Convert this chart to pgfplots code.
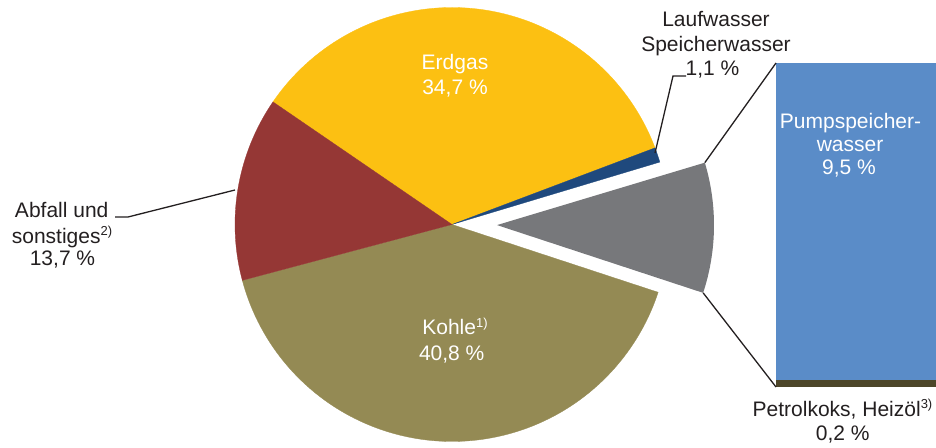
\documentclass[border=0pt]{standalone}
\usepackage{pgfplots}
\pgfplotsset{compat=1.18}
\usepackage{fontspec}
\setmainfont{Liberation Sans}
\definecolor{cErd}{HTML}{FCC012}
\definecolor{cAbf}{HTML}{953735}
\definecolor{cKoh}{HTML}{948A54}
\definecolor{cGry}{HTML}{77787B}
\definecolor{cLau}{HTML}{1F497D}
\definecolor{cPmp}{HTML}{5A8CC8}
\definecolor{cPet}{HTML}{4D4629}
\definecolor{cTxt}{HTML}{231F20}
\newcommand{\fs}{\fontsize{21}{25}\selectfont}
\newcommand{\sups}[1]{\raisebox{7.5pt}{\fontsize{13}{13}\selectfont #1}}
\tikzset{lbl/.style={font=\fs, text=cTxt, anchor=base, inner sep=0pt},
         wlbl/.style={font=\fs, text=white, anchor=base, inner sep=0pt}}
% shares in percent
\def\vErd{34.7}
\def\vLau{1.1}
\def\vPmp{9.5}
\def\vPet{0.2}
\def\vKoh{40.8}
\def\vAbf{13.7}
\begin{document}
\begin{tikzpicture}
\pgfmathsetmacro\cx{452}
\pgfmathsetmacro\cy{222.5}
\pgfmathsetmacro\R{217}
\pgfmathsetmacro\aE{145.6}
\pgfmathsetmacro\aEs{\aE-3.6*\vErd}
\pgfmathsetmacro\aLs{\aEs-3.6*\vLau}
\pgfmathsetmacro\aGs{\aLs-3.6*(\vPmp+\vPet)}
\pgfmathsetmacro\aKs{\aGs-3.6*\vKoh}
\pgfmathsetmacro\aAe{\aE+3.6*\vAbf}
\pgfmathsetmacro\aGm{(\aGs+\aLs)/2}
\pgfmathsetmacro\gx{\cx+45*cos(\aGm)}
\pgfmathsetmacro\gy{\cy+45*sin(\aGm)}
\pgfmathsetmacro\gTx{\gx+\R*cos(\aLs)}
\pgfmathsetmacro\gTy{\gy+\R*sin(\aLs)}
\pgfmathsetmacro\gBx{\gx+\R*cos(\aGs)}
\pgfmathsetmacro\gBy{\gy+\R*sin(\aGs)}
\pgfmathsetmacro\bB{60}
\pgfmathsetmacro\bT{384}
\pgfmathsetmacro\bS{(\bT-\bB)/(\vPmp+\vPet)}
\pgfmathsetmacro\bM{\bB+\bS*\vPet}
\begin{axis}[x=1pt,y=1pt,xmin=0,xmax=936,ymin=0,ymax=447,hide axis,clip=false]
\path (axis cs:0,0) rectangle (axis cs:936,447);
% pie wedges
\addplot[fill=cErd, draw=cErd, line width=0.3pt, domain=\aEs:\aE, samples=120, variable=\t]
  ({\cx+\R*cos(\t)},{\cy+\R*sin(\t)}) -- (axis cs:\cx,\cy) -- cycle;
\addplot[fill=cLau, draw=cLau, line width=0.3pt, domain=\aLs:\aEs, samples=10, variable=\t]
  ({\cx+\R*cos(\t)},{\cy+\R*sin(\t)}) -- (axis cs:\cx,\cy) -- cycle;
\addplot[fill=cKoh, draw=cKoh, line width=0.3pt, domain=\aKs:\aGs, samples=140, variable=\t]
  ({\cx+\R*cos(\t)},{\cy+\R*sin(\t)}) -- (axis cs:\cx,\cy) -- cycle;
\addplot[fill=cAbf, draw=cAbf, line width=0.3pt, domain=\aE:\aAe, samples=60, variable=\t]
  ({\cx+\R*cos(\t)},{\cy+\R*sin(\t)}) -- (axis cs:\cx,\cy) -- cycle;
\addplot[fill=cGry, draw=none, domain=\aGs:\aLs, samples=50, variable=\t]
  ({\gx+\R*cos(\t)},{\gy+\R*sin(\t)}) -- (axis cs:\gx,\gy) -- cycle;
% bar of pie
\addplot[fill=cPet, draw=none] coordinates {(776,\bB) (936,\bB) (936,\bM) (776,\bM)} -- cycle;
\addplot[fill=cPmp, draw=none] coordinates {(776,\bM) (936,\bM) (936,\bT) (776,\bT)} -- cycle;
% connector and leader lines
\addplot[cTxt, line width=1.3pt] coordinates {(\gTx,\gTy) (776,\bT)};
\addplot[cTxt, line width=1.3pt] coordinates {(\gBx,\gBy) (776,\bB)};
\addplot[cTxt, line width=1.3pt] coordinates {(115,230) (128,230) (235,257)};
\addplot[cTxt, line width=1.3pt] coordinates {(686,371) (673,371) (655,294)};
% labels
\node[wlbl] at (axis cs:455,377) {Erdgas};
\node[wlbl] at (axis cs:455,352) {34,7 \%};
\node[wlbl] at (axis cs:455,112) {Kohle\sups{1)}};
\node[wlbl] at (axis cs:451.7,87) {40,8 \%};
\node[lbl] at (axis cs:61.7,229.7) {Abfall und};
\node[lbl] at (axis cs:62,203.7) {sonstiges\sups{2)}};
\node[lbl] at (axis cs:62.5,181) {13,7 \%};
\node[lbl] at (axis cs:716,420.3) {Laufwasser};
\node[lbl] at (axis cs:716,395.3) {Speicherwasser};
\node[lbl] at (axis cs:712.5,371) {1,1 \%};
\node[wlbl] at (axis cs:850.5,318.7) {Pumpspeicher-};
\node[wlbl] at (axis cs:850,295.3) {wasser};
\node[wlbl] at (axis cs:849,272) {9,5 \%};
\node[lbl] at (axis cs:842.5,31) {Petrolkoks, Heizöl\sups{3)}};
\node[lbl] at (axis cs:842.7,6.3) {0,2 \%};
\end{axis}
\end{tikzpicture}
\end{document}
